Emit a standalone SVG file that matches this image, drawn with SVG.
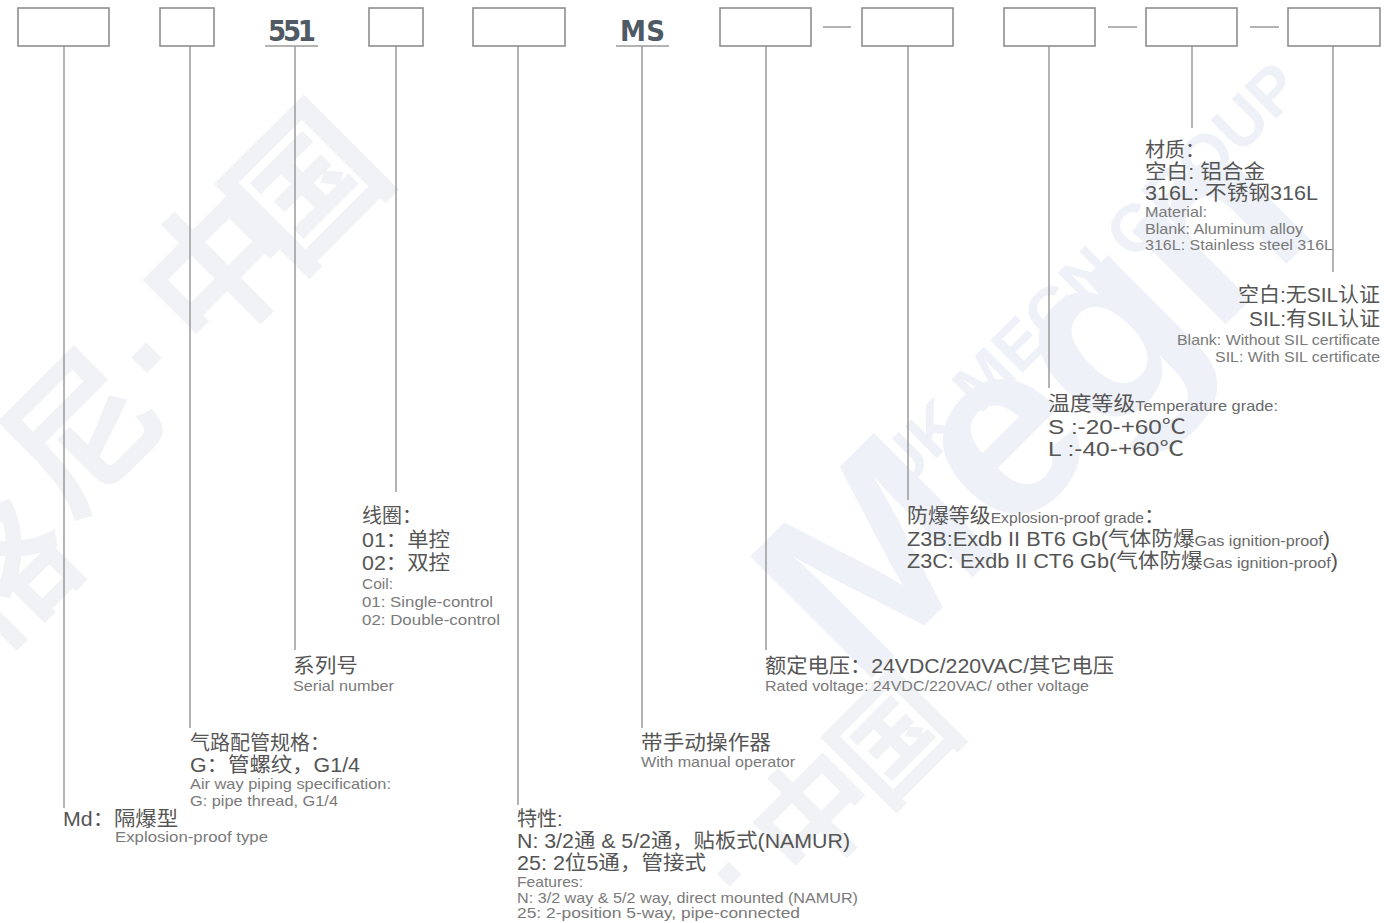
<svg xmlns="http://www.w3.org/2000/svg" width="1387" height="923" viewBox="0 0 1387 923">
<style>
.bg{fill:#ffffff}
.wm{font-family:"Liberation Sans","Noto Sans CJK SC",sans-serif;font-weight:bold;fill:#f1f2f5}
.wmb{font-family:"Liberation Sans",sans-serif;font-weight:bold;fill:#eef1f7}
.box{fill:#ffffff;stroke:#8e8e8e;stroke-width:1.6}
.lead{stroke:#9a9a9a;stroke-width:1.5;fill:none}
.dash{stroke:#9a9a9a;stroke-width:1.5}
.code{font-family:"DejaVu Sans Condensed","DejaVu Sans",sans-serif;font-weight:bold;font-size:29px;fill:#4f5a65}
.cn{font-family:"Liberation Sans","Noto Sans CJK SC",sans-serif;font-size:20px;fill:#555555}
.en{font-family:"Liberation Sans","Noto Sans CJK SC",sans-serif;font-size:15px;fill:#7a7a7a}
.sm{font-size:15px;fill:#6a6a6a}
</style>
<rect class="bg" x="0" y="0" width="1387" height="923"/>
<g id="watermark">
<text class="wm" font-size="140" text-anchor="middle" transform="translate(40,610) rotate(-45)">格</text>
<text class="wm" font-size="150" text-anchor="middle" transform="translate(120,470) rotate(-45)">尼</text>
<text class="wm" font-size="150" text-anchor="middle" transform="translate(185,390) rotate(-45)">·</text>
<text class="wm" font-size="150" text-anchor="middle" transform="translate(258,308) rotate(-45)">中</text>
<text class="wm" font-size="150" text-anchor="middle" transform="translate(345,225) rotate(-45)">国</text>
<text class="wm" font-size="120" text-anchor="middle" transform="translate(760,900) rotate(-45)">·</text>
<text class="wm" font-size="120" text-anchor="middle" transform="translate(845,845) rotate(-45)">中</text>
<text class="wm" font-size="120" text-anchor="middle" transform="translate(925,770) rotate(-45)">国</text>
<text class="wmb" font-size="66" font-weight="normal" transform="translate(900,495) rotate(-45)">UK MEGN GROUP</text>
<text class="wmb" font-size="250" transform="translate(860,690) rotate(-45)">Megn</text>
</g>
<g id="connectors">
<line class="lead" x1="64" y1="46" x2="64" y2="808"/>
<line class="lead" x1="190" y1="46" x2="190" y2="728"/>
<line class="lead" x1="295" y1="46" x2="295" y2="650"/>
<line class="lead" x1="396" y1="46" x2="396" y2="492"/>
<line class="lead" x1="518" y1="46" x2="518" y2="805"/>
<line class="lead" x1="642" y1="46" x2="642" y2="728"/>
<line class="lead" x1="766" y1="46" x2="766" y2="650"/>
<line class="lead" x1="908" y1="46" x2="908" y2="500"/>
<line class="lead" x1="1049" y1="46" x2="1049" y2="388"/>
<line class="lead" x1="1192" y1="46" x2="1192" y2="128"/>
<line class="lead" x1="1333" y1="46" x2="1333" y2="272"/>
<line class="dash" x1="823" y1="27" x2="851" y2="27"/>
<line class="dash" x1="1108" y1="27" x2="1137" y2="27"/>
<line class="dash" x1="1250" y1="27" x2="1279" y2="27"/>
</g>
<g id="n-type">
<rect class="box" x="18" y="8" width="91" height="38"/>
<text class="cn" x="63" y="826" textLength="115" lengthAdjust="spacingAndGlyphs">Md：隔爆型</text>
<text class="en" x="115" y="842" textLength="153" lengthAdjust="spacingAndGlyphs">Explosion-proof type</text>
</g>
<g id="n-piping">
<rect class="box" x="160" y="8" width="54" height="38"/>
<text class="cn" x="190" y="750">气路配管规格：</text>
<text class="cn" x="190" y="772" textLength="170" lengthAdjust="spacingAndGlyphs">G：管螺纹，G1/4</text>
<text class="en" x="190" y="789" textLength="201" lengthAdjust="spacingAndGlyphs">Air way piping specification:</text>
<text class="en" x="190" y="806" textLength="148" lengthAdjust="spacingAndGlyphs">G: pipe thread, G1/4</text>
</g>
<g id="n-serial">
<text class="code" x="268" y="41" textLength="48">551</text>
<line class="dash" x1="265" y1="46" x2="318" y2="46"/>
<text class="cn" x="293" y="673" textLength="65" lengthAdjust="spacingAndGlyphs">系列号</text>
<text class="en" x="293" y="691" textLength="101" lengthAdjust="spacingAndGlyphs">Serial number</text>
</g>
<g id="n-coil">
<rect class="box" x="369" y="8" width="54" height="38"/>
<text class="cn" x="362" y="523">线圈：</text>
<text class="cn" x="362" y="547" textLength="88" lengthAdjust="spacingAndGlyphs">01：单控</text>
<text class="cn" x="362" y="570" textLength="88" lengthAdjust="spacingAndGlyphs">02：双控</text>
<text class="en" x="362" y="589" textLength="31" lengthAdjust="spacingAndGlyphs">Coil:</text>
<text class="en" x="362" y="607" textLength="131" lengthAdjust="spacingAndGlyphs">01: Single-control</text>
<text class="en" x="362" y="625" textLength="138" lengthAdjust="spacingAndGlyphs">02: Double-control</text>
</g>
<g id="n-features">
<rect class="box" x="473" y="8" width="92" height="38"/>
<text class="cn" x="517" y="826">特性:</text>
<text class="cn" x="517" y="848" textLength="333" lengthAdjust="spacingAndGlyphs">N: 3/2通 &amp; 5/2通，贴板式(NAMUR)</text>
<text class="cn" x="517" y="870" textLength="189" lengthAdjust="spacingAndGlyphs">25: 2位5通，管接式</text>
<text class="en" x="517" y="887" textLength="66" lengthAdjust="spacingAndGlyphs">Features:</text>
<text class="en" x="517" y="903" textLength="341" lengthAdjust="spacingAndGlyphs">N: 3/2 way &amp; 5/2 way, direct mounted (NAMUR)</text>
<text class="en" x="517" y="918" textLength="283" lengthAdjust="spacingAndGlyphs">25: 2-position 5-way, pipe-connected</text>
</g>
<g id="n-manual">
<text class="code" x="620" y="41" textLength="45">MS</text>
<line class="dash" x1="616" y1="46" x2="669" y2="46"/>
<text class="cn" x="641" y="750" textLength="130" lengthAdjust="spacingAndGlyphs">带手动操作器</text>
<text class="en" x="641" y="767" textLength="154" lengthAdjust="spacingAndGlyphs">With manual operator</text>
</g>
<g id="n-voltage">
<rect class="box" x="720" y="8" width="91" height="38"/>
<text class="cn" x="765" y="673" textLength="349" lengthAdjust="spacingAndGlyphs">额定电压：24VDC/220VAC/其它电压</text>
<text class="en" x="765" y="691" textLength="324" lengthAdjust="spacingAndGlyphs">Rated voltage: 24VDC/220VAC/ other voltage</text>
</g>
<g id="n-exgrade">
<rect class="box" x="862" y="8" width="91" height="38"/>
<text class="cn" x="907" y="523" textLength="258" lengthAdjust="spacingAndGlyphs">防爆等级<tspan class="sm">Explosion-proof grade</tspan>：</text>
<text class="cn" x="907" y="546" textLength="423" lengthAdjust="spacingAndGlyphs">Z3B:Exdb II BT6 Gb(气体防爆<tspan class="sm">Gas ignition-proof</tspan>)</text>
<text class="cn" x="907" y="568" textLength="431" lengthAdjust="spacingAndGlyphs">Z3C: Exdb II CT6 Gb(气体防爆<tspan class="sm">Gas ignition-proof</tspan>)</text>
</g>
<g id="n-temp">
<rect class="box" x="1004" y="8" width="91" height="38"/>
<text class="cn" x="1048" y="411" textLength="230" lengthAdjust="spacingAndGlyphs">温度等级<tspan class="sm">Temperature grade:</tspan></text>
<text class="cn" x="1048" y="434" textLength="138" lengthAdjust="spacingAndGlyphs">S :-20-+60℃</text>
<text class="cn" x="1048" y="456" textLength="136" lengthAdjust="spacingAndGlyphs">L :-40-+60℃</text>
</g>
<g id="n-material">
<rect class="box" x="1146" y="8" width="91" height="38"/>
<text class="cn" x="1145" y="157">材质：</text>
<text class="cn" x="1145" y="179" textLength="120" lengthAdjust="spacingAndGlyphs">空白: 铝合金</text>
<text class="cn" x="1145" y="200" textLength="173" lengthAdjust="spacingAndGlyphs">316L: 不锈钢316L</text>
<text class="en" x="1145" y="217" textLength="62" lengthAdjust="spacingAndGlyphs">Material:</text>
<text class="en" x="1145" y="234" textLength="158" lengthAdjust="spacingAndGlyphs">Blank: Aluminum alloy</text>
<text class="en" x="1145" y="250" textLength="188" lengthAdjust="spacingAndGlyphs">316L: Stainless steel 316L</text>
</g>
<g id="n-sil">
<rect class="box" x="1288" y="8" width="92" height="38"/>
<text class="cn" x="1238" y="302" textLength="142" lengthAdjust="spacingAndGlyphs">空白:无SIL认证</text>
<text class="cn" x="1249" y="326" textLength="131" lengthAdjust="spacingAndGlyphs">SIL:有SIL认证</text>
<text class="en" x="1177" y="345" textLength="203" lengthAdjust="spacingAndGlyphs">Blank: Without SIL certificate</text>
<text class="en" x="1215" y="362" textLength="165" lengthAdjust="spacingAndGlyphs">SIL: With SIL certificate</text>
</g>
</svg>
